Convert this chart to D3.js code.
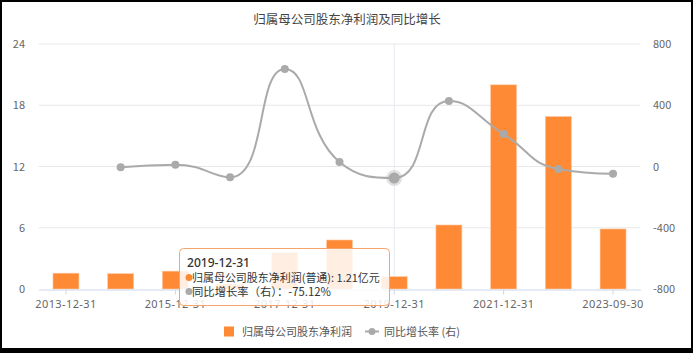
<!DOCTYPE html>
<html><head><meta charset="utf-8">
<script src="https://cdn.jsdelivr.net/npm/d3@7/dist/d3.min.js"></script>
<style>
body{margin:0;background:#fff;}
svg{display:block;font-family:"Noto Sans CJK SC","Noto Sans",sans-serif;}
</style></head><body>
<svg id="c" width="695" height="353"></svg>
<script>
const categories = ["2013-12-31","2014-12-31","2015-12-31","2016-12-31","2017-12-31","2018-12-31","2019-12-31","2020-12-31","2021-12-31","2022-12-31","2023-09-30"];
const profit = [1.55, 1.5, 1.75, 0.48, 3.56, 4.8, 1.21, 6.27, 20.0, 16.9, 5.88];
const growth = [null, -5, 12, -70.5, 637, 29, -75.12, 428, 212, -16, -47];
const leftTicks = [0, 6, 12, 18, 24];
const rightTicks = [-800, -400, 0, 400, 800];
const xLabels = ["2013-12-31","2015-12-31","2017-12-31","2019-12-31","2021-12-31","2023-09-30"];
const title = "归属母公司股东净利润及同比增长";
const seriesNames = ["归属母公司股东净利润", "同比增长率 (右)"];
const hoverIndex = 6;

const svg = d3.select("#c");
const barColor = "#fe8a35", lineColor = "#aaaaaa";
const x = d3.scaleBand().domain(categories).range([38.6, 640.4]).paddingInner(0.525).paddingOuter(0.2625);
const yL = d3.scaleLinear().domain([0, 24]).range([289, 44]);
const yR = d3.scaleLinear().domain([-800, 800]).range([289, 44]);
const cx = c => x(c) + x.bandwidth() / 2;

// title
svg.append("text").attr("x", 347).attr("y", 24).attr("text-anchor", "middle")
  .attr("font-size", 12.5).attr("fill", "#444").text(title);

// grid
svg.append("g").selectAll("line").data(leftTicks.filter(d => d > 0)).join("line")
  .attr("x1", 38.6).attr("x2", 640.4).attr("y1", d => yL(d)).attr("y2", d => yL(d))
  .attr("stroke", "#e8e8e8").attr("stroke-width", 1);

// left axis labels
svg.append("g").selectAll("text").data(leftTicks).join("text")
  .attr("x", 25).attr("y", d => yL(d) + 4).attr("text-anchor", "end")
  .attr("font-size", 11).attr("fill", "#666").text(d => d);
// right axis labels
svg.append("g").selectAll("text").data(rightTicks).join("text")
  .attr("x", 653).attr("y", d => yR(d) + 4).attr("text-anchor", "start")
  .attr("font-size", 11).attr("fill", "#666").text(d => d);

// crosshair
svg.append("line").attr("x1", cx(categories[hoverIndex])).attr("x2", cx(categories[hoverIndex]))
  .attr("y1", 44).attr("y2", 289).attr("stroke", "#e3e9f3").attr("stroke-width", 1);

// bars
svg.append("g").selectAll("rect").data(categories).join("rect")
  .attr("x", d => x(d)).attr("width", x.bandwidth())
  .attr("y", (d, i) => yL(profit[i])).attr("height", (d, i) => yL(0) - yL(profit[i]))
  .attr("fill", barColor).attr("stroke", "#ffc9a3").attr("stroke-width", 0.6);

// x axis
const xAxis = d3.axisBottom(x).tickValues(xLabels).tickSize(5).tickSizeOuter(0);
const gx = svg.append("g").attr("transform", "translate(0,289.5)").call(xAxis);
gx.select(".domain").attr("stroke", "#ccd6eb");
gx.selectAll(".tick line").attr("stroke", "#ccd6eb");
gx.selectAll(".tick text").attr("fill", "#666").attr("font-size", 11).attr("dy", "0.95em")
  .attr("letter-spacing", "0.4px").attr("font-family", "'Noto Sans',sans-serif");

// smooth line (echarts-like, with clamped control points)
const pts = categories.map((c, i) => growth[i] == null ? null : [cx(c), yR(growth[i])]).filter(p => p);
function smoothPath(P, s) {
  const n = P.length;
  const cpBefore = [], cpAfter = [];
  for (let i = 0; i < n; i++) {
    const [px, py] = P[i];
    if (i === 0 || i === n - 1) { cpBefore[i] = [px, py]; cpAfter[i] = [px, py]; continue; }
    const [ax, ay] = P[i - 1], [bx, by] = P[i + 1];
    let vx = bx - ax, vy = by - ay;
    const l0 = Math.hypot(px - ax, py - ay), l1 = Math.hypot(bx - px, by - py);
    const r = l1 / (l0 + l1);
    let c1x = px + vx * s * r, c1y = py + vy * s * r;
    c1x = Math.min(c1x, Math.max(bx, px)); c1x = Math.max(c1x, Math.min(bx, px));
    c1y = Math.min(c1y, Math.max(by, py)); c1y = Math.max(c1y, Math.min(by, py));
    vx = c1x - px; vy = c1y - py;
    let c0x = px - vx * l0 / l1, c0y = py - vy * l0 / l1;
    c0x = Math.min(c0x, Math.max(ax, px)); c0x = Math.max(c0x, Math.min(ax, px));
    c0y = Math.min(c0y, Math.max(ay, py)); c0y = Math.max(c0y, Math.min(ay, py));
    vx = px - c0x; vy = py - c0y;
    c1x = px + vx * l1 / l0; c1y = py + vy * l1 / l0;
    cpBefore[i] = [c0x, c0y]; cpAfter[i] = [c1x, c1y];
  }
  const p = d3.path();
  p.moveTo(P[0][0], P[0][1]);
  for (let i = 1; i < n; i++) {
    p.bezierCurveTo(cpAfter[i - 1][0], cpAfter[i - 1][1], cpBefore[i][0], cpBefore[i][1], P[i][0], P[i][1]);
  }
  return p.toString();
}
svg.append("path").attr("d", smoothPath(pts, 0.5)).attr("fill", "none")
  .attr("stroke", lineColor).attr("stroke-width", 2);
const dots = categories.map((c, i) => ({c, v: growth[i], i})).filter(d => d.v != null);
svg.append("g").selectAll("circle").data(dots).join("circle")
  .attr("cx", d => cx(d.c)).attr("cy", d => yR(d.v))
  .attr("r", d => d.i === hoverIndex ? 5.5 : 4)
  .attr("fill", lineColor)
  .attr("stroke", d => d.i === hoverIndex ? "rgba(170,170,170,0.35)" : "none")
  .attr("stroke-width", d => d.i === hoverIndex ? 5 : 0);

// tooltip
function fitText(sel, target) {
  const w = sel.node().getComputedTextLength();
  const fs = +sel.attr("font-size");
  if (w > 0) sel.attr("font-size", Math.max(10, Math.min(14, fs * target / w)));
}
const tt = svg.append("g").attr("transform", "translate(179,248)");
tt.append("rect").attr("x", 0.5).attr("y", 0.5).attr("width", 210).attr("height", 57).attr("rx", 4)
  .attr("fill", "rgba(255,255,255,0.85)").attr("stroke", "#f5a46b").attr("stroke-width", 1);
const t1 = tt.append("text").attr("x", 8).attr("y", 19).attr("font-size", 12).attr("fill", "#333")
  .attr("font-family", "'Noto Sans',sans-serif").attr("font-weight", 500).text(categories[hoverIndex]);
fitText(t1, 63);
tt.append("circle").attr("cx", 10).attr("cy", 29.5).attr("r", 3.5).attr("fill", barColor);
const t2 = tt.append("text").attr("x", 13).attr("y", 34).attr("font-size", 12).attr("fill", "#333")
  .text(`归属母公司股东净利润(普通): ${profit[hoverIndex].toFixed(2)}亿元`);
fitText(t2, 188);
tt.append("circle").attr("cx", 10).attr("cy", 43.5).attr("r", 3.5).attr("fill", lineColor);
const t3 = tt.append("text").attr("x", 13).attr("y", 48).attr("font-size", 12).attr("fill", "#333")
  .text(`同比增长率（右）：${growth[hoverIndex].toFixed(2)}%`);
fitText(t3, 139);

// legend
const lg = svg.append("g");
lg.append("rect").attr("x", 224).attr("y", 326.5).attr("width", 10).attr("height", 10).attr("fill", barColor);
lg.append("text").attr("x", 242).attr("y", 335.5).attr("font-size", 11).attr("fill", "#555").text(seriesNames[0]);
lg.append("line").attr("x1", 365).attr("x2", 379).attr("y1", 331.5).attr("y2", 331.5).attr("stroke", lineColor).attr("stroke-width", 2);
lg.append("circle").attr("cx", 372).attr("cy", 331.5).attr("r", 3.5).attr("fill", lineColor);
lg.append("text").attr("x", 384).attr("y", 335.5).attr("font-size", 11).attr("fill", "#555").text(seriesNames[1]);

// frame
svg.append("rect").attr("x", 1).attr("y", 1).attr("width", 691).attr("height", 348)
  .attr("fill", "none").attr("stroke", "#000").attr("stroke-width", 2);
svg.append("rect").attr("x", 0).attr("y", 349).attr("width", 693).attr("height", 4).attr("fill", "#000");
</script></body></html>
